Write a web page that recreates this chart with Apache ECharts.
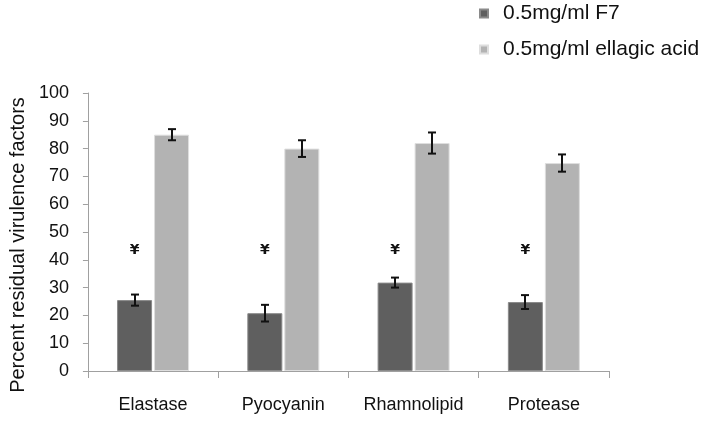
<!DOCTYPE html>
<html><head><meta charset="utf-8">
<script src="https://cdn.jsdelivr.net/npm/echarts@6/dist/echarts.min.js"></script>
<style>html,body{margin:0;padding:0;background:#fff}#c{width:705px;height:422px}</style>
</head><body><div id="c"></div>
<script>
const categories = ['Elastase', 'Pyocyanin', 'Rhamnolipid', 'Protease'];
const seriesNames = ['0.5mg/ml F7', '0.5mg/ml ellagic acid'];
const f7Values = [25.5, 20.8, 31.8, 24.8];
const f7Errors = [2.0, 3.0, 1.8, 2.5];
const eaValues = [85.0, 80.0, 82.0, 74.8];
const eaErrors = [2.0, 3.0, 3.8, 3.1];
const markText = '¥';
const markValues = [43.5, 43.5, 43.5, 43.5];
const yTicks = [0, 10, 20, 30, 40, 50, 60, 70, 80, 90, 100];

const FONT = 'Liberation Sans, Arial, sans-serif';
const BAR_W = 35, GAP = 2;
const offsets = [-(BAR_W + GAP) / 2, (BAR_W + GAP) / 2];

function errRender(seriesIdx, vals, errs) {
  return function (params, api) {
    const i = api.value(0);
    const v = vals[i], e = errs[i];
    const top = api.coord([i, v + e]);
    const bot = api.coord([i, v - e]);
    const x = Math.round(top[0] + offsets[seriesIdx]);
    const cap = 4;
    const st = { stroke: '#111', lineWidth: 2 };
    return { type: 'group', children: [
      { type: 'line', shape: { x1: x, y1: top[1], x2: x, y2: bot[1] }, style: st },
      { type: 'line', shape: { x1: x - cap, y1: top[1], x2: x + cap, y2: top[1] }, style: st },
      { type: 'line', shape: { x1: x - cap, y1: bot[1], x2: x + cap, y2: bot[1] }, style: st }
    ]};
  };
}

const chart = echarts.init(document.getElementById('c'));
chart.setOption({
  animation: false,
  backgroundColor: '#fff',
  grid: { left: 86, right: 96, top: 93, bottom: 51 },
  legend: {
    orient: 'vertical', left: 479, top: 3, padding: 0, itemGap: 15,
    itemWidth: 8, itemHeight: 8, icon: 'rect',
    textStyle: { fontFamily: FONT, fontSize: 21, color: '#111', padding: [0, 0, 0, 10] },
    data: seriesNames
  },
  xAxis: {
    type: 'category', data: categories,
    axisLine: { lineStyle: { color: '#a0a0a0', width: 1 } },
    axisTick: { show: true, length: 7, lineStyle: { color: '#a0a0a0' } },
    axisLabel: { interval: 0, fontFamily: FONT, fontSize: 18, color: '#111', margin: 25 }
  },
  yAxis: {
    type: 'value', min: 0, max: 100, interval: 10,
    name: 'Percent residual virulence factors', nameLocation: 'middle', nameGap: 59,
    nameTextStyle: { fontFamily: FONT, fontSize: 20, color: '#111', padding: [0, 26, 0, 0] },
    axisLine: { show: true, lineStyle: { color: '#a0a0a0' } },
    axisTick: { show: true, length: 5, lineStyle: { color: '#a0a0a0' } },
    splitLine: { show: false },
    axisLabel: { fontFamily: FONT, fontSize: 18, color: '#111', margin: 19,
      formatter: v => yTicks.includes(v) ? String(v) : '' }
  },
  series: [
    { name: seriesNames[0], type: 'bar', data: f7Values, barWidth: BAR_W, barGap: (GAP / BAR_W * 100) + '%',
      itemStyle: { color: '#5f5f5f', borderColor: '#8a8a8a', borderWidth: 1 } },
    { name: seriesNames[1], type: 'bar', data: eaValues, barWidth: BAR_W,
      itemStyle: { color: '#b3b3b3', borderColor: '#dedede', borderWidth: 1 } },
    { type: 'custom', data: categories.map((c, i) => [i]), renderItem: errRender(0, f7Values, f7Errors), z: 5 },
    { type: 'custom', data: categories.map((c, i) => [i]), renderItem: errRender(1, eaValues, eaErrors), z: 5 },
    { type: 'custom', data: categories.map((c, i) => [i, markValues[i]]), z: 5,
      renderItem: function (params, api) {
        const p = api.coord([api.value(0), api.value(1)]);
        return { type: 'text', x: p[0] + offsets[0], y: p[1],
          style: { text: markText, fontFamily: 'DejaVu Sans, sans-serif', fontSize: 14, fontWeight: 'bold',
            fill: '#111', align: 'center', verticalAlign: 'middle' } };
      } }
  ]
});
</script></body></html>
